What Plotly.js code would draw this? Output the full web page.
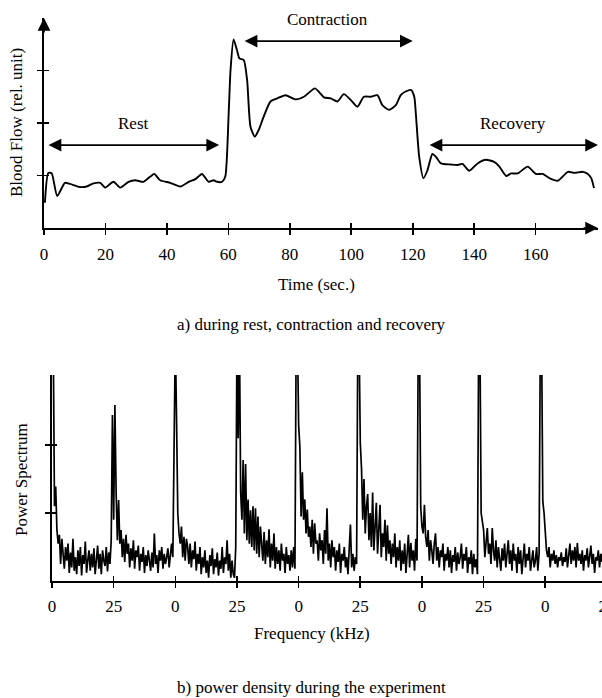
<!DOCTYPE html>
<html><head><meta charset="utf-8">
<script src="https://cdn.plot.ly/plotly-3.0.1.min.js"></script>
<style>html,body{margin:0;padding:0;overflow:hidden;background:#fff;width:602px;height:698px}</style>
</head><body><div id="chart" style="width:620px;height:698px"></div>
<script>
// ---- (a) blood flow during rest, contraction, recovery ----
const timeSec = [0.3,1.4,2.5,4.3,6.8,8.5,11.7,13.9,16.1,18.3,19.9,22.6,24.8,27.5,29.7,32.4,34.6,35.9,37.8,41.1,
  44.4,47.1,49.3,51.4,53.6,55.2,56.3,58.0,59.0,60.1,60.7,61.7,62.8,63.6,65.0,66.1,67.2,68.6,69.9,71.5,
  73.7,75.9,78.6,81.9,84.6,88.2,91.1,93.3,95.5,97.6,99.8,102.0,104.1,106.3,108.5,110.1,112.3,114.5,116.1,117.7,
  119.4,120.5,121.0,122.1,123.5,124.8,126.4,127.5,129.2,132.4,134.6,136.2,138.4,141.1,143.8,146.5,148.2,150.4,152.0,154.2,
  157.4,160.1,162.3,164.5,167.2,170.5,172.6,175.4,177.0,178.1,179.0];
const bloodFlow = [0.48,1.05,1.04,0.61,0.86,0.84,0.78,0.79,0.85,0.86,0.77,0.88,0.77,0.88,0.91,0.88,0.98,1.03,0.91,0.86,
  0.79,0.88,0.93,1.03,0.88,0.91,0.88,0.88,0.98,2.18,3.0,3.59,3.39,3.23,3.2,2.82,1.93,1.74,1.87,2.12,
  2.41,2.47,2.53,2.45,2.50,2.66,2.49,2.47,2.41,2.55,2.44,2.31,2.5,2.5,2.53,2.34,2.25,2.34,2.53,2.6,
  2.63,2.5,2.19,1.36,0.95,1.1,1.41,1.36,1.23,1.21,1.2,1.22,1.09,1.23,1.3,1.26,1.17,0.99,1.04,1.04,
  1.17,1.03,1.03,0.95,0.9,1.07,1.05,1.07,1.03,0.95,0.76];
const timeTicks = [0,20,40,60,80,100,120,140,160];
const flowTicks = [1,2,3];
const phaseNames = ['Rest','Contraction','Recovery'];
const phaseStart = [1, 64.8, 125];
const phaseEnd = [57, 120, 180.3];

// ---- (b) power spectrum, consecutive spectra (step 0.5 on the running frequency axis) ----
const freqStep = 0.5;
const spectrum = [
  3.6,3.6,1.1,1.39,0.75,0.55,0.68,0.25,0.62,0.4,0.18,0.5,0.3,0.55,0.12,0.42,0.2,0.62,0.15,0.35,0.1,0.45,0.22,0.5,0.08,
  0.38,0.25,0.58,0.12,0.3,0.45,0.15,0.4,0.2,0.48,0.1,0.36,0.52,0.18,0.4,0.1,0.45,0.3,0.22,0.5,0.14,0.42,0.25,0.59,2.44,
  0.9,2.59,1.3,0.6,1.19,0.55,0.75,0.35,0.62,0.28,0.68,0.4,0.55,0.2,0.48,0.3,0.6,0.18,0.45,0.35,0.52,0.15,0.4,0.28,0.5,
  0.12,0.38,0.22,0.45,0.3,0.15,0.42,0.2,0.7,0.25,0.38,0.12,0.45,0.3,0.5,0.18,0.4,0.25,0.35,0.48,0.2,0.42,0.55,0.35,2.2,
  3.6,2.37,1.0,0.7,0.55,0.8,0.35,0.65,0.3,0.62,0.5,0.25,0.55,0.2,0.45,0.32,0.58,0.15,0.4,0.25,0.5,0.1,0.35,0.2,0.45,
  0.12,0.3,0.05,0.38,0.22,0.48,0.1,0.32,0.2,0.42,0.08,0.3,0.18,0.5,0.12,0.35,0.25,0.6,0.15,0.4,0.05,0.3,0.1,0.05,0.5,
  3.6,2.1,3.6,1.3,0.9,1.78,0.7,1.72,0.6,1.2,0.55,1.04,0.5,1.1,0.45,1.07,0.4,0.95,0.35,0.8,0.5,0.3,0.72,0.25,0.6,
  0.35,0.76,0.2,0.55,0.3,0.7,0.18,0.5,0.25,0.45,0.15,0.55,0.3,0.4,0.12,0.5,0.25,0.38,0.15,0.45,0.2,0.5,0.18,3.6,3.6,
  2.3,1.97,0.95,1.6,0.9,1.2,0.7,1.05,0.65,0.8,0.5,0.9,0.4,0.85,0.55,0.6,0.3,0.7,0.45,0.6,0.25,0.75,0.4,1.07,0.3,
  0.55,0.2,0.6,0.35,0.5,0.15,0.45,0.28,0.55,0.12,0.4,0.3,0.5,0.2,0.35,0.1,0.45,0.83,0.2,0.4,0.15,0.35,0.25,3.6,3.6,
  2.03,1.65,0.9,1.5,0.7,1.1,1.28,0.6,1.0,0.5,1.3,0.45,0.9,1.15,0.4,0.85,1.12,0.35,0.7,0.5,0.9,0.3,0.82,0.4,0.6,
  0.25,0.55,0.35,0.7,0.2,0.5,0.3,0.6,0.15,0.45,0.25,0.55,0.12,0.4,0.68,0.2,0.56,0.3,0.45,0.15,0.62,0.3,3.6,3.6,1.09,
  0.8,0.7,1.12,0.65,0.5,0.75,0.3,0.6,0.45,0.25,0.55,0.7,0.3,0.5,0.2,0.45,0.35,0.55,0.15,0.4,0.3,0.5,0.2,0.45,0.12,
  0.38,0.28,0.5,0.15,0.42,0.25,0.35,0.55,0.18,0.4,0.3,0.5,0.12,0.35,0.25,0.45,0.1,0.4,0.2,0.32,0.1,3.6,3.6,1.0,0.9,
  0.75,0.35,0.6,0.78,0.4,0.55,0.25,0.78,0.45,0.3,0.6,0.2,0.5,0.35,0.15,0.48,0.3,0.55,0.2,0.4,0.6,0.25,0.45,0.15,0.55,
  0.3,0.4,0.12,0.5,0.25,0.45,0.1,0.38,0.55,0.2,0.4,0.3,0.5,0.15,0.35,0.45,0.2,0.3,0.5,0.15,0.4,3.6,3.6,1.17,1.0,
  0.7,0.45,0.35,0.5,0.2,0.4,0.3,0.45,0.25,0.38,0.2,0.35,0.3,0.42,0.22,0.35,0.28,0.48,0.2,0.4,0.55,0.25,0.45,0.3,0.5,
  0.2,0.56,0.3,0.4,0.25,0.45,0.15,0.38,0.3,0.48,0.2,0.35,0.52,0.25,0.4,0.12,0.35,0.3,0.45,0.2,0.4,0.28,0.5,0.15,0.38,
  0.3,0.42,0.2,0.35,0.25,0.45,0.18,0.4,0.3,0.35];
const freqTicks = [0,25,50,75,100,125,150,175,200,225];
const freqTickText = ['0','25','0','25','0','25','0','25','0','25'];
const powerTicks = [1,2];

const freq = spectrum.map((_, i) => i * freqStep);

const W = 620, H = 698;
const px = v => v / W;
const py = v => (H - v) / H;
const FONT = {family: 'Liberation Serif, Times New Roman, serif', size: 17, color: '#000'};

const topX = [px(44), px(598)], topY = [py(228), py(18)];
const botX = [px(52), 1], botY = [py(581), py(375)];
const topXRange = [0, 180.3], topYRange = [0, 4.0];
const botXRange = [0, 230.3], botYRange = [0, 3.03];

const baseAxis = {showgrid:false, zeroline:false, showline:true, linecolor:'#000', linewidth:1.8,
  ticks:'outside', ticklen:5, tickwidth:1.6, tickcolor:'#000', tickfont:FONT, fixedrange:true};
const innerAxis = {showgrid:false, zeroline:false, showline:false, ticks:'inside', ticklen:5, tickwidth:1.6,
  tickcolor:'#000', showticklabels:false, fixedrange:true};

const traces = [
  {type:'scatter', mode:'lines', x:timeSec, y:bloodFlow, xaxis:'x', yaxis:'y',
   line:{color:'#000', width:1.9, shape:'spline', smoothing:0.6}, hoverinfo:'skip', showlegend:false},
  {type:'scatter', mode:'lines', x:freq, y:spectrum, xaxis:'x2', yaxis:'y2',
   line:{color:'#000', width:1.7}, hoverinfo:'skip', showlegend:false},
  {type:'scatter', mode:'lines', x:[], y:[], xaxis:'x3', yaxis:'y3', showlegend:false},
  {type:'scatter', mode:'lines', x:[], y:[], xaxis:'x4', yaxis:'y4', showlegend:false}
];

const annotations = [];
const arrowLevel = [1.58, 3.56, 1.58];
phaseNames.forEach((name, i) => {
  annotations.push({xref:'x', yref:'y', axref:'x', ayref:'y', x:phaseEnd[i], y:arrowLevel[i],
    ax:phaseStart[i], ay:arrowLevel[i], text:'', showarrow:true, arrowside:'end+start',
    arrowhead:2, startarrowhead:2, arrowsize:1.5, startarrowsize:1.5, arrowwidth:1.7, arrowcolor:'#000'});
  annotations.push({xref:'x', yref:'y', x:(phaseStart[i]+phaseEnd[i])/2, y:arrowLevel[i], yshift:22,
    text:name, showarrow:false, font:FONT, yanchor:'middle'});
});
// axis arrowheads of panel (a)
annotations.push({xref:'x', yref:'y', x:0, y:topYRange[1], ax:0, ay:16, text:'', showarrow:true,
  arrowhead:2, arrowsize:1.5, arrowwidth:1.7, arrowcolor:'#000'});
annotations.push({xref:'x', yref:'y', x:topXRange[1], y:0, ax:-16, ay:0, text:'', showarrow:true,
  arrowhead:2, arrowsize:1.5, arrowwidth:1.7, arrowcolor:'#000'});
// titles
const txt = (t, x, y, angle) => ({xref:'paper', yref:'paper', x:px(x), y:py(y), text:t, showarrow:false,
  font:FONT, xanchor:'center', yanchor:'middle', textangle:angle||0});
annotations.push(txt('Time (sec.)', 316, 284));
annotations.push(txt('a) during rest, contraction and recovery', 311, 324));
annotations.push(txt('Frequency (kHz)', 312, 633));
annotations.push(txt('b) power density during the experiment', 311, 687));
annotations.push(txt('Blood Flow (rel. unit)', 17, 123, -90));
annotations.push(txt('Power Spectrum', 22, 480, -90));

const layout = {
  width: W, height: H, margin:{l:0, r:0, t:0, b:0}, paper_bgcolor:'#fff', plot_bgcolor:'rgba(0,0,0,0)',
  showlegend:false, font:FONT,
  xaxis: Object.assign({}, baseAxis, {domain:topX, range:topXRange, anchor:'y', tickvals:timeTicks, ticklabelstandoff:5}),
  yaxis: Object.assign({}, baseAxis, {domain:topY, range:topYRange, anchor:'x', tickvals:flowTicks, showticklabels:false}),
  xaxis3: Object.assign({}, innerAxis, {domain:topX, range:topXRange, anchor:'y3', overlaying:'x', tickvals:timeTicks}),
  yaxis3: Object.assign({}, innerAxis, {domain:topY, range:topYRange, anchor:'x3', overlaying:'y', tickvals:flowTicks}),
  xaxis2: Object.assign({}, baseAxis, {domain:botX, range:botXRange, anchor:'y2', tickvals:freqTicks, ticktext:freqTickText, ticklabelstandoff:4}),
  yaxis2: Object.assign({}, baseAxis, {domain:botY, range:botYRange, anchor:'x2', tickvals:powerTicks, showticklabels:false}),
  xaxis4: Object.assign({}, innerAxis, {domain:botX, range:botXRange, anchor:'y4', overlaying:'x2', tickvals:freqTicks}),
  yaxis4: Object.assign({}, innerAxis, {domain:botY, range:botYRange, anchor:'x4', overlaying:'y2', tickvals:powerTicks}),
  annotations: annotations
};

Plotly.newPlot('chart', traces, layout, {staticPlot:true, displayModeBar:false});
</script>
</body></html>
